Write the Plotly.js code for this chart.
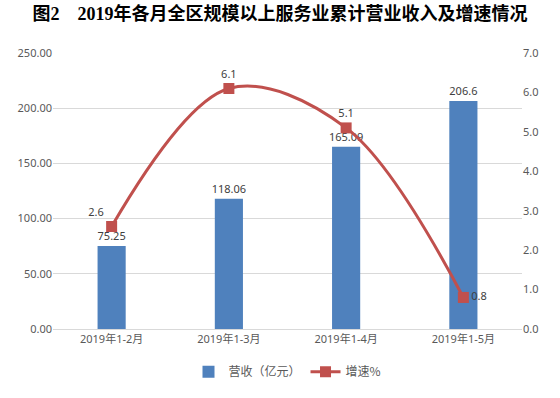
<!DOCTYPE html>
<html>
<head>
<meta charset="utf-8">
<script src="https://cdn.plot.ly/plotly-3.0.1.min.js"></script>
<style>html,body{margin:0;padding:0;background:#fff;}#chart{width:560px;height:398px;}</style>
</head>
<body>
<div id="chart"></div>
<script>
const categories = ["2019年1-2月", "2019年1-3月", "2019年1-4月", "2019年1-5月"];
const revenue = [75.25, 118.06, 165.09, 206.6];
const revenueLabels = ["75.25", "118.06", "165.09", "206.6"];
const growth = [2.6, 6.1, 5.1, 0.8];
const growthLabels = ["2.6", "6.1", "5.1", "0.8"];
const growthLabelPos = ["top left", "top center", "top center", "middle right"];

const labelFont = {family: "Noto Sans, Noto Sans CJK SC, sans-serif", size: 11, color: "#404040"};
const tickFont = {family: "Noto Sans, Noto Sans CJK SC, sans-serif", size: 11, color: "#595959"};

const traces = [
  {
    type: "bar", x: categories, y: revenue, name: "营收（亿元）",
    marker: {color: "#4F81BD"}, width: 0.24,
    text: revenueLabels, textposition: "outside", textfont: labelFont, cliponaxis: false,
    constraintext: "none", hoverinfo: "x+y"
  },
  {
    type: "scatter", mode: "lines+markers+text", x: categories, y: growth, yaxis: "y2", name: "增速%",
    line: {color: "#C0504D", width: 3, shape: "spline", smoothing: 1},
    marker: {symbol: "square", size: 11, color: "#C0504D"},
    text: growthLabels, textposition: growthLabelPos, textfont: labelFont, cliponaxis: false
  }
];

const layout = {
  width: 560, height: 398,
  margin: {l: 53, r: 38, t: 53, b: 62},
  paper_bgcolor: "#fff", plot_bgcolor: "#fff",
  title: {
    text: "图2　2019年各月全区规模以上服务业累计营业收入及增速情况",
    font: {family: "Liberation Serif, Noto Sans CJK SC, serif", size: 18, color: "#000", weight: "bold"},
    x: 0.5, xanchor: "center", y: 0.965, yanchor: "middle"
  },
  xaxis: {
    type: "category", tickfont: tickFont, showgrid: false,
    showline: true, linecolor: "#D9D9D9", linewidth: 1, ticks: "", fixedrange: true
  },
  yaxis: {
    range: [0, 250], dtick: 50, tickformat: ".2f", tickfont: tickFont,
    gridcolor: "#D9D9D9", gridwidth: 1, zeroline: false, showline: false, ticks: "", ticklen: 0
  },
  yaxis2: {
    range: [0, 7], dtick: 1, tickformat: ".1f", tickfont: tickFont,
    overlaying: "y", side: "right", showgrid: false, zeroline: false, showline: false, ticks: ""
  },
  showlegend: true,
  legend: {
    orientation: "h", x: 0.5, xanchor: "center", y: -0.155, yanchor: "middle",
    font: {family: "Noto Sans CJK SC, sans-serif", size: 12, color: "#595959"},
    itemwidth: 30, tracegroupgap: 0
  },
  bargap: 0.76
};

Plotly.newPlot("chart", traces, layout, {displayModeBar: false, staticPlot: true});
</script>
</body>
</html>
